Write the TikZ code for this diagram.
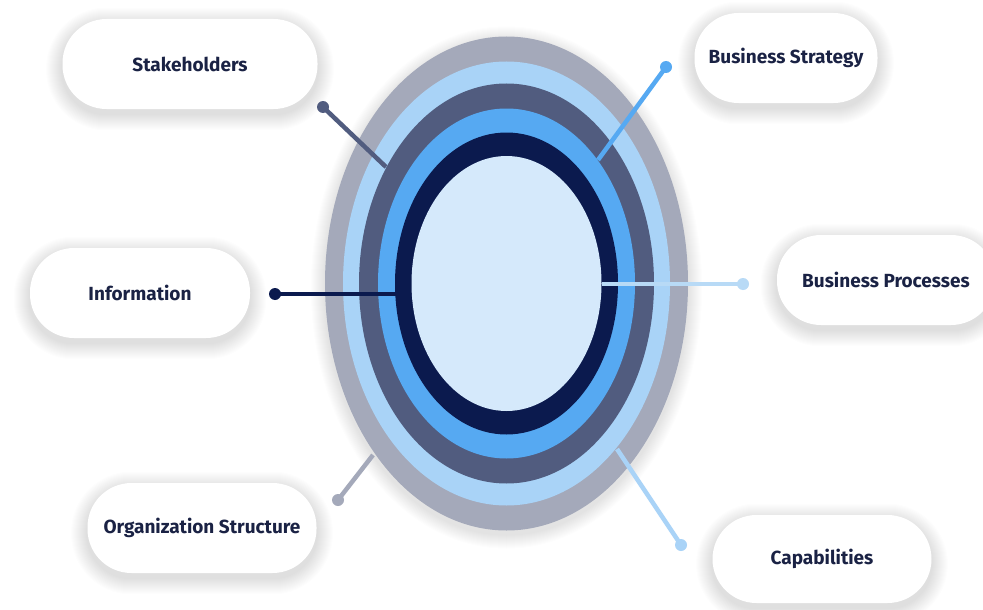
\documentclass[tikz,border=0pt]{standalone}
\usepackage{fontspec}
\setmainfont{Fira Sans}
\usetikzlibrary{backgrounds}
\definecolor{ringgray}{HTML}{A4A9BA}
\definecolor{ringlight}{HTML}{A9D3F7}
\definecolor{ringslate}{HTML}{515C7F}
\definecolor{ringblue}{HTML}{56A9F2}
\definecolor{ringnavy}{HTML}{0B1A4E}
\definecolor{ringinner}{HTML}{D5E9FB}
\definecolor{bpline}{HTML}{B8DAF6}
\definecolor{txt}{HTML}{1A2244}
\definecolor{shade}{HTML}{5A6078}
\tikzset{
  pill/.style={rectangle, rounded corners=44pt, fill=white, minimum height=90pt,
    text=txt, font=\fontsize{19}{22}\selectfont\bfseries, inner sep=0pt},
  dot/.style={circle, fill=#1, inner sep=0pt, minimum size=12pt},
  link/.style={draw=#1, line width=4.5pt},
  shadowlayer/.style={fill=shade, fill opacity=0.011},
}
\begin{document}
\begin{tikzpicture}[x=1pt, y=-1pt]
\useasboundingbox (0,0) rectangle (983,610);
\coordinate (c) at (506.5,283.5);
% soft shadow of the rings
\foreach \k in {1,...,14} {
  \fill[shadowlayer] ([yshift=-4pt]c) ellipse [x radius={181.5pt+\k pt}, y radius={247pt+\k pt}];
}
% rings
\fill[ringgray] (c) ellipse [x radius=181.5pt, y radius=247pt];
\fill[ringlight] (c) ellipse [x radius=163.5pt, y radius=222pt];
\fill[ringslate] (c) ellipse [x radius=147.5pt, y radius=200pt];
\fill[ringblue] (c) ellipse [x radius=128.5pt, y radius=175pt];
\fill[ringnavy] (c) ellipse [x radius=111.5pt, y radius=151pt];
\fill[ringinner] (c) ellipse [x radius=95pt, y radius=127.5pt];
% boxes
\node[pill, minimum width=255pt] (stake) at (190,64) {Stakeholders};
\node[pill, minimum width=183pt] (strat) at (786,58) {Business Strategy};
\node[pill, minimum width=220pt] (info) at (140,293) {Information};
\node[pill, minimum width=218pt] (proc) at (886,280) {Business Processes};
\node[pill, minimum width=229pt] (org) at (202,528) {Organization Structure};
\node[pill, minimum width=219pt, minimum height=88pt] (cap) at (822,559) {Capabilities};
% soft shadows of the boxes
\begin{scope}[on background layer]
\fill[white] (0,0) rectangle (983,610);
\foreach \n in {stake,strat,info,proc,org,cap} {
  \foreach \k in {1,...,16} {
    \fill[shadowlayer, rounded corners={44pt+\k pt}]
      ([shift={(-\k,-\k+5)}]\n.north west) rectangle ([shift={(\k,\k+5)}]\n.south east);
  }
}
\end{scope}
% connector ends on rings
\coordinate (eS) at (386,167);
\coordinate (eB) at (598,160);
\coordinate (eI) at (396,294);
\coordinate (eP) at (602,284);
\coordinate (eC) at (617,449);
\coordinate (eO) at (373,455);
% dots
\node[dot=ringslate] (dS) at (323,107) {};
\node[dot=ringblue] (dB) at (666,67) {};
\node[dot=ringnavy] (dI) at (275,294) {};
\node[dot=bpline] (dP) at (743,284) {};
\node[dot=ringlight] (dC) at (681,545) {};
\node[dot=ringgray] (dO) at (338,500) {};
% connectors
\draw[link=ringslate] (dS.center) -- (eS);
\draw[link=ringblue] (dB.center) -- (eB);
\draw[link=ringnavy] (dI.center) -- (eI);
\draw[link=bpline] (eP) -- (dP.center);
\draw[link=ringlight] (eC) -- (dC.center);
\draw[link=ringgray] (eO) -- (dO.center);
\end{tikzpicture}
\end{document}
